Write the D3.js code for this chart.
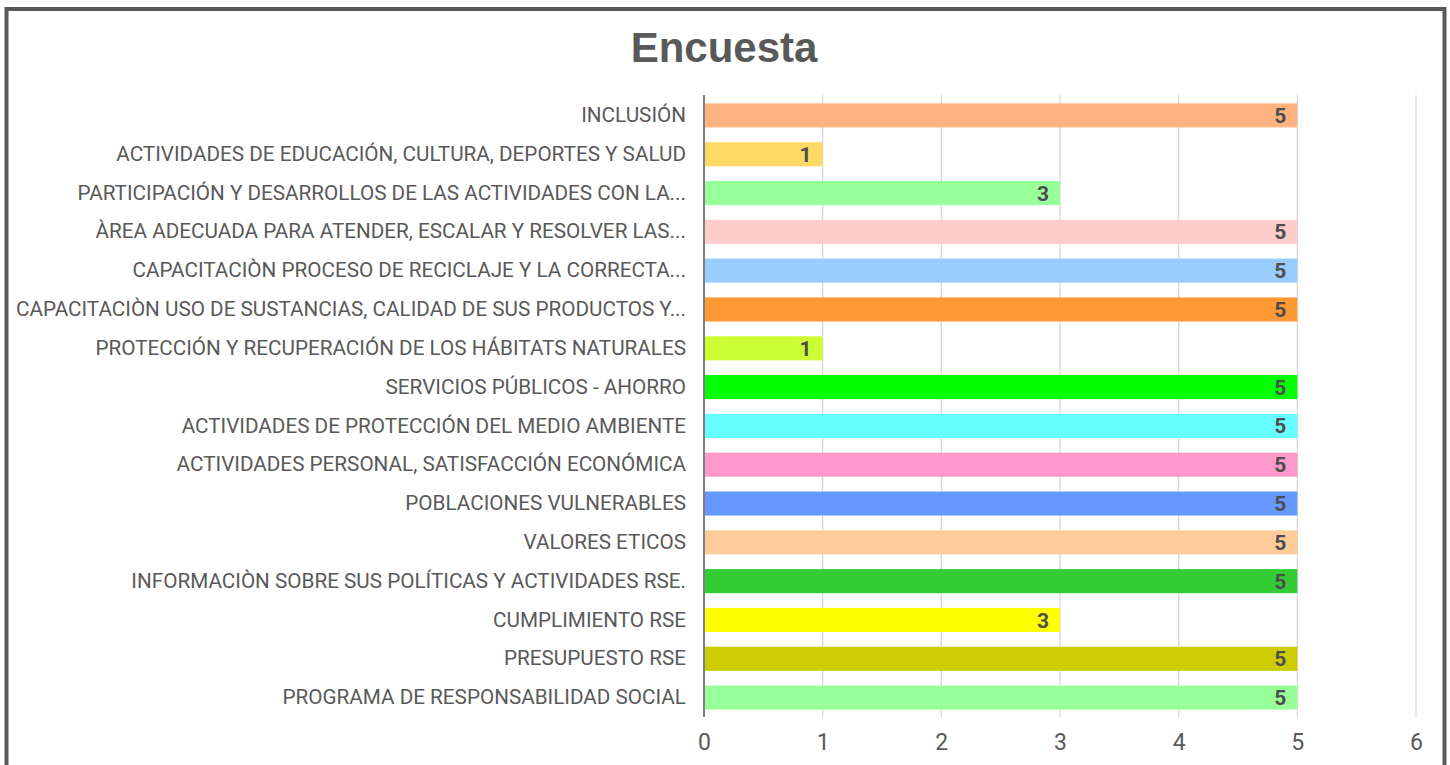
<!DOCTYPE html>
<html><head><meta charset="utf-8">
<script src="https://cdn.jsdelivr.net/npm/d3@7"></script>
<style>html,body{margin:0;padding:0;background:#fff;overflow:hidden}</style>
</head><body>
<svg id="c" width="1450" height="765"></svg>
<script>
const categories = [
  "INCLUSIÓN",
  "ACTIVIDADES DE EDUCACIÓN, CULTURA, DEPORTES Y SALUD",
  "PARTICIPACIÓN Y DESARROLLOS DE LAS ACTIVIDADES CON LA...",
  "ÀREA ADECUADA PARA ATENDER, ESCALAR Y RESOLVER LAS...",
  "CAPACITACIÒN PROCESO DE RECICLAJE Y LA CORRECTA...",
  "CAPACITACIÒN USO DE SUSTANCIAS, CALIDAD DE SUS PRODUCTOS Y...",
  "PROTECCIÓN Y RECUPERACIÓN DE LOS HÁBITATS NATURALES",
  "SERVICIOS PÚBLICOS - AHORRO",
  "ACTIVIDADES DE PROTECCIÓN DEL MEDIO AMBIENTE ",
  "ACTIVIDADES PERSONAL, SATISFACCIÓN ECONÓMICA",
  "POBLACIONES VULNERABLES",
  "VALORES ETICOS",
  "INFORMACIÒN SOBRE SUS POLÍTICAS Y ACTIVIDADES RSE.",
  "CUMPLIMIENTO RSE",
  "PRESUPUESTO RSE",
  "PROGRAMA DE RESPONSABILIDAD SOCIAL"
];
const values = [5, 1, 3, 5, 5, 5, 1, 5, 5, 5, 5, 5, 5, 3, 5, 5];
const colors = ["#FFB380", "#FFD966", "#99FF99", "#FFCCCC", "#99CCFF", "#FF9933", "#CCFF33", "#00FF00",
                "#66FFFF", "#FF99CC", "#6699FF", "#FFCC99", "#33CC33", "#FFFF00", "#CCCC00", "#99FF99"];
const xTicks = [0, 1, 2, 3, 4, 5, 6];
const title = "Encuesta";

const svg = d3.select("#c");
svg.append("rect").attr("x", 6.5).attr("y", 9).attr("width", 1438).attr("height", 800)
  .attr("fill", "#fff").attr("stroke", "#595959").attr("stroke-width", 4);

svg.append("text").attr("x", 724).attr("y", 62).attr("text-anchor", "middle")
  .attr("font-family", "'Liberation Sans', Arial, sans-serif").attr("font-weight", "bold")
  .attr("font-size", 42).attr("fill", "#595959").text(title);

const x = d3.scaleLinear().domain([0, 6]).range([704, 1416]);
const y = d3.scaleBand().domain(categories).range([96, 717]).paddingInner(0.38).paddingOuter(0.19);

// gridlines
svg.append("g").selectAll("line").data(xTicks.filter(t => t > 0)).join("line")
  .attr("x1", d => x(d)).attr("x2", d => x(d)).attr("y1", 95).attr("y2", 717)
  .attr("stroke", "#d9d9d9").attr("stroke-width", 1.3);

// bars
svg.append("g").selectAll("rect").data(values).join("rect")
  .attr("x", x(0)).attr("y", (d, i) => y(categories[i]))
  .attr("width", d => x(d) - x(0)).attr("height", y.bandwidth())
  .attr("fill", (d, i) => colors[i]);

// value labels
svg.append("g").selectAll("text").data(values).join("text")
  .attr("x", d => x(d) - 11).attr("y", (d, i) => y(categories[i]) + y.bandwidth() / 2)
  .attr("dy", "0.36em").attr("text-anchor", "end")
  .attr("font-family", "Roboto, sans-serif").attr("font-weight", "bold").attr("font-size", 21)
  .attr("fill", "#4d4d4d").text(d => d);

// y axis
const yAxis = d3.axisLeft(y).tickSize(0).tickPadding(18);
const gy = svg.append("g").attr("transform", `translate(${x(0)},0)`).call(yAxis);
gy.select(".domain").remove();
gy.selectAll("text").attr("font-family", "Roboto, sans-serif").attr("font-size", 20.7).attr("fill", "#595959");
svg.append("line").attr("x1", x(0)).attr("x2", x(0)).attr("y1", 95).attr("y2", 717)
  .attr("stroke", "#7f7f7f").attr("stroke-width", 2);

// x axis
const xAxis = d3.axisBottom(x).tickValues(xTicks).tickSize(0).tickPadding(17).tickFormat(d3.format("d"));
const gx = svg.append("g").attr("transform", "translate(0,717)").call(xAxis);
gx.select(".domain").remove();
gx.selectAll("text").attr("font-family", "Roboto, sans-serif").attr("font-size", 23).attr("fill", "#595959");
</script>
</body></html>
